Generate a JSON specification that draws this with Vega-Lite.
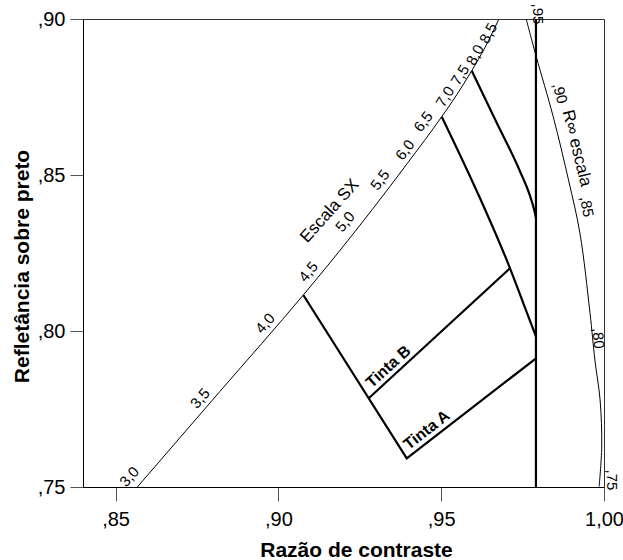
{
  "$schema": "https://vega.github.io/schema/vega-lite/v6.json",
  "width": 521,
  "height": 468,
  "autosize": {"type": "none"},
  "padding": {"left": 83, "top": 19, "right": 19, "bottom": 73},
  "config": {
    "view": {"stroke": "#333", "strokeWidth": 1},
    "font": "Liberation Sans",
    "text": {"font": "Liberation Sans", "color": "#000"}
  },
  "datasets": {
    "sx": [
      {"x": 0.85668, "y": 0.75},
      {"x": 0.88208, "y": 0.78067},
      {"x": 0.90766, "y": 0.81154},
      {"x": 0.91832, "y": 0.82506},
      {"x": 0.92891, "y": 0.83904},
      {"x": 0.93951, "y": 0.85359},
      {"x": 0.95017, "y": 0.86869},
      {"x": 0.95478, "y": 0.87571},
      {"x": 0.95938, "y": 0.88343},
      {"x": 0.96346, "y": 0.8909},
      {"x": 0.96773, "y": 0.9}
    ],
    "rinf": [
      {"i": 0, "x": 0.9761, "y": 0.9},
      {"i": 1, "x": 0.9792, "y": 0.8879},
      {"i": 2, "x": 0.9844, "y": 0.8687},
      {"i": 3, "x": 0.9891, "y": 0.8484},
      {"i": 4, "x": 0.9926, "y": 0.8314},
      {"i": 5, "x": 0.9957, "y": 0.8058},
      {"i": 6, "x": 0.9972, "y": 0.7907},
      {"i": 7, "x": 0.9988, "y": 0.7779},
      {"i": 8, "x": 0.9993, "y": 0.7629},
      {"i": 9, "x": 0.9985, "y": 0.7501}
    ],
    "straight": [
      {"seg": "A", "x": 0.90766, "y": 0.81154},
      {"seg": "A", "x": 0.93942, "y": 0.7592},
      {"seg": "A", "x": 0.97913, "y": 0.79125},
      {"seg": "B", "x": 0.92775, "y": 0.77843},
      {"seg": "B", "x": 0.97114, "y": 0.8201}
    ],
    "curves": [
      {"seg": "c2", "x": 0.95017, "y": 0.86869},
      {"seg": "c2", "x": 0.96193, "y": 0.84253},
      {"seg": "c2", "x": 0.97114, "y": 0.8201},
      {"seg": "c2", "x": 0.97523, "y": 0.80888},
      {"seg": "c2", "x": 0.97913, "y": 0.79817},
      {"seg": "c3", "x": 0.95938, "y": 0.88343},
      {"seg": "c3", "x": 0.96675, "y": 0.8674},
      {"seg": "c3", "x": 0.97412, "y": 0.85138},
      {"seg": "c3", "x": 0.97726, "y": 0.84337},
      {"seg": "c3", "x": 0.97839, "y": 0.83952},
      {"seg": "c3", "x": 0.97913, "y": 0.83622}
    ],
    "vert": [{"x": 0.9791, "y": 0.75, "y2": 0.9}],
    "sxlabels": [
      {"label": "3,0", "x": 0.85422, "y": 0.7533},
      {"label": "3,5", "x": 0.87593, "y": 0.77843},
      {"label": "4,0", "x": 0.8959, "y": 0.80247},
      {"label": "4,5", "x": 0.9092, "y": 0.81901},
      {"label": "Escala SX", "x": 0.91577, "y": 0.83848},
      {"label": "5,0", "x": 0.92047, "y": 0.83503},
      {"label": "5,5", "x": 0.93122, "y": 0.8484},
      {"label": "6,0", "x": 0.9389, "y": 0.85801},
      {"label": "6,5", "x": 0.94451, "y": 0.86708},
      {"label": "7,0", "x": 0.95118, "y": 0.8751},
      {"label": "7,5", "x": 0.95579, "y": 0.88205},
      {"label": "8,0", "x": 0.96039, "y": 0.88846},
      {"label": "8,5", "x": 0.96448, "y": 0.89542}
    ],
    "rlabels": [
      {"label": ",95", "x": 0.97974, "y": 0.9016},
      {"label": ",90", "x": 0.9865, "y": 0.87619},
      {"label": "R∞ escala", "x": 0.99163, "y": 0.85856},
      {"label": ",85", "x": 0.9947, "y": 0.83984},
      {"label": ",80", "x": 0.99826, "y": 0.79766},
      {"label": ",75", "x": 1.00238, "y": 0.75224}
    ],
    "tinta": [
      {"label": "Tinta A", "x": 0.94556, "y": 0.76827},
      {"label": "Tinta B", "x": 0.93377, "y": 0.78856}
    ]
  },
  "encoding": {
    "x": {
      "field": "x",
      "type": "quantitative",
      "scale": {"domain": [0.84, 1.0], "nice": false, "zero": false},
      "axis": {
        "title": "Razão de contraste",
        "values": [0.85, 0.9, 0.95, 1.0],
        "labelExpr": "datum.value >= 0.999 ? '1,00' : replace(format(datum.value, '.2f'), '0.', ',')",
        "grid": false,
        "labelFlush": false,
        "labelOverlap": false,
        "tickSize": 14,
        "tickColor": "#555",
        "domainColor": "#000",
        "labelFont": "Liberation Sans",
        "labelFontSize": 20,
        "labelColor": "#000",
        "labelPadding": 8,
        "titleFont": "Liberation Sans",
        "titleFontSize": 21,
        "titleFontWeight": "bold",
        "titleColor": "#000",
        "titleBaseline": "alphabetic",
        "titleY": 69,
        "titleX": 273
      }
    },
    "y": {
      "field": "y",
      "type": "quantitative",
      "scale": {"domain": [0.75, 0.9], "nice": false, "zero": false},
      "axis": {
        "title": "Refletância sobre preto",
        "values": [0.75, 0.8, 0.85, 0.9],
        "labelExpr": "replace(format(datum.value, '.2f'), '0.', ',')",
        "grid": false,
        "labelFlush": false,
        "labelOverlap": false,
        "tickSize": 13,
        "tickColor": "#555",
        "domainColor": "#000",
        "labelFont": "Liberation Sans",
        "labelFontSize": 20,
        "labelColor": "#000",
        "labelPadding": 5,
        "titleFont": "Liberation Sans",
        "titleFontSize": 21,
        "titleFontWeight": "bold",
        "titleColor": "#000",
        "titleBaseline": "alphabetic",
        "titleX": -55,
        "titleY": 247
      }
    }
  },
  "layer": [
    {
      "data": {"name": "sx"},
      "mark": {"type": "line", "color": "#000", "strokeWidth": 1, "interpolate": "monotone"}
    },
    {
      "data": {"name": "rinf"},
      "mark": {"type": "line", "color": "#000", "strokeWidth": 1, "interpolate": "catmull-rom"},
      "encoding": {"order": {"field": "i", "type": "quantitative"}}
    },
    {
      "data": {"name": "vert"},
      "mark": {"type": "rule", "color": "#000", "strokeWidth": 2.2},
      "encoding": {"y2": {"field": "y2"}}
    },
    {
      "data": {"name": "straight"},
      "mark": {"type": "line", "color": "#000", "strokeWidth": 2.2, "strokeJoin": "miter"},
      "encoding": {"detail": {"field": "seg"}}
    },
    {
      "data": {"name": "curves"},
      "mark": {"type": "line", "color": "#000", "strokeWidth": 2.2, "interpolate": "monotone"},
      "encoding": {"detail": {"field": "seg"}}
    },
    {
      "data": {"name": "sxlabels"},
      "transform": [{"filter": {"field": "label", "oneOf": ["3,0", "3,5", "4,0"]}}],
      "mark": {"type": "text", "fontSize": 15, "angle": -49, "align": "center", "baseline": "middle"},
      "encoding": {"text": {"field": "label"}}
    },
    {
      "data": {"name": "sxlabels"},
      "transform": [{"filter": {"field": "label", "oneOf": ["4,5", "5,0"]}}],
      "mark": {"type": "text", "fontSize": 15, "angle": -50, "align": "center", "baseline": "middle"},
      "encoding": {"text": {"field": "label"}}
    },
    {
      "data": {"name": "sxlabels"},
      "transform": [{"filter": {"field": "label", "oneOf": ["Escala SX"]}}],
      "mark": {"type": "text", "fontSize": 17, "angle": -48, "align": "center", "baseline": "middle"},
      "encoding": {"text": {"field": "label"}}
    },
    {
      "data": {"name": "sxlabels"},
      "transform": [{"filter": {"field": "label", "oneOf": ["5,5", "6,0", "6,5"]}}],
      "mark": {"type": "text", "fontSize": 15, "angle": -53, "align": "center", "baseline": "middle"},
      "encoding": {"text": {"field": "label"}}
    },
    {
      "data": {"name": "sxlabels"},
      "transform": [{"filter": {"field": "label", "oneOf": ["7,0", "7,5"]}}],
      "mark": {"type": "text", "fontSize": 15, "angle": -58, "align": "center", "baseline": "middle"},
      "encoding": {"text": {"field": "label"}}
    },
    {
      "data": {"name": "sxlabels"},
      "transform": [{"filter": {"field": "label", "oneOf": ["8,0", "8,5"]}}],
      "mark": {"type": "text", "fontSize": 15, "angle": -62, "align": "center", "baseline": "middle"},
      "encoding": {"text": {"field": "label"}}
    },
    {
      "data": {"name": "rlabels"},
      "transform": [{"filter": {"field": "label", "oneOf": [",95", ",75"]}}],
      "mark": {"type": "text", "fontSize": 15, "angle": 90, "align": "center", "baseline": "middle"},
      "encoding": {"text": {"field": "label"}}
    },
    {
      "data": {"name": "rlabels"},
      "transform": [{"filter": {"field": "label", "oneOf": [",90"]}}],
      "mark": {"type": "text", "fontSize": 15, "angle": 75, "align": "center", "baseline": "middle"},
      "encoding": {"text": {"field": "label"}}
    },
    {
      "data": {"name": "rlabels"},
      "transform": [{"filter": {"field": "label", "oneOf": ["R∞ escala"]}}],
      "mark": {"type": "text", "fontSize": 17, "angle": 76, "align": "center", "baseline": "middle"},
      "encoding": {"text": {"field": "label"}}
    },
    {
      "data": {"name": "rlabels"},
      "transform": [{"filter": {"field": "label", "oneOf": [",85"]}}],
      "mark": {"type": "text", "fontSize": 15, "angle": 80, "align": "center", "baseline": "middle"},
      "encoding": {"text": {"field": "label"}}
    },
    {
      "data": {"name": "rlabels"},
      "transform": [{"filter": {"field": "label", "oneOf": [",80"]}}],
      "mark": {"type": "text", "fontSize": 15, "angle": 85, "align": "center", "baseline": "middle"},
      "encoding": {"text": {"field": "label"}}
    },
    {
      "data": {"name": "tinta"},
      "transform": [{"filter": {"field": "label", "oneOf": ["Tinta A"]}}],
      "mark": {"type": "text", "fontSize": 16, "fontWeight": "bold", "angle": -38, "align": "center", "baseline": "middle"},
      "encoding": {"text": {"field": "label"}}
    },
    {
      "data": {"name": "tinta"},
      "transform": [{"filter": {"field": "label", "oneOf": ["Tinta B"]}}],
      "mark": {"type": "text", "fontSize": 16, "fontWeight": "bold", "angle": -42, "align": "center", "baseline": "middle"},
      "encoding": {"text": {"field": "label"}}
    }
  ]
}
